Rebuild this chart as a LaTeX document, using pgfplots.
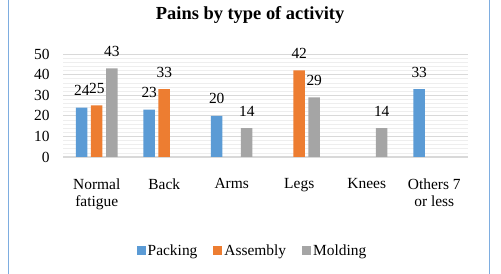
\documentclass[border=0pt]{standalone}
\usepackage{pgfplots}
\pgfplotsset{compat=1.18}
\usepackage{fontspec}
\setmainfont{Liberation Serif}

\definecolor{cBlue}{HTML}{5B9BD5}
\definecolor{cOrange}{HTML}{ED7D31}
\definecolor{cGray}{HTML}{A5A5A5}
\definecolor{gridMajor}{HTML}{D9D9D9}
\definecolor{gridMinor}{HTML}{EEEEEE}
\definecolor{frameBlue}{HTML}{7EADE0}

\begin{document}
\begin{tikzpicture}
\path[use as bounding box] (0,0) rectangle (501bp,274bp);
\draw[frameBlue, line width=1.6bp] (8.5bp,0) -- (8.5bp,274bp);
\draw[frameBlue, line width=1.6bp] (489.5bp,0) -- (489.5bp,274bp);
\begin{axis}[
  at={(63bp,117bp)}, anchor=south west,
  scale only axis, width=405bp, height=103bp,
  ybar=3.5bp, bar width=11.5bp,
  xmin=-0.5, xmax=5.5, ymin=0, ymax=50,
  xtick={0,1,2,3,4,5},
  xticklabels={{Normal\\fatigue},Back,Arms,Legs,Knees,{Others 7\\or less}},
  ytick={0,10,20,30,40,50},
  minor y tick num=4,
  ymajorgrids, yminorgrids,
  major grid style={gridMajor, line width=0.8bp},
  minor grid style={gridMinor, line width=0.6bp},
  axis x line*=bottom, axis y line*=left,
  y axis line style={draw=none},
  x axis line style={draw=gridMajor, line width=1bp, -},
  major tick length=0pt, minor tick length=0pt,
  tick label style={font=\fontsize{15.5}{17}\selectfont},
  /pgf/number format/assume math mode=true,
  xticklabel style={align=center, anchor=north, yshift=-18bp},
  yticklabel style={xshift=-10bp},
  title={\textbf{Pains by type of activity}},
  title style={font=\fontsize{18.5}{20}\selectfont, at={(0.462,1)}, anchor=base, yshift=29bp},
  nodes near coords,
  every node near coord/.append style={font=\fontsize{15.5}{17}\selectfont, anchor=base, yshift=12bp, inner sep=0pt},
  legend style={at={(0.468,-0.91)}, anchor=center, draw=none, legend columns=-1,
    font=\fontsize{15.5}{17}\selectfont,
    /tikz/every even column/.append style={column sep=14bp}},
  legend image code/.code={\fill[#1] (0bp,-4.5bp) rectangle (9bp,4.5bp);},
]
\addplot[fill=cBlue, draw=none] coordinates {(0,24) (1,23) (2,20) (5,33)};
\addplot[fill=cOrange, draw=none] coordinates {(0,25) (1,33) (3,42)};
\addplot[fill=cGray, draw=none] coordinates {(0,43) (2,14) (3,29) (4,14)};
\legend{Packing,Assembly,Molding}
\end{axis}
\end{tikzpicture}
\end{document}
